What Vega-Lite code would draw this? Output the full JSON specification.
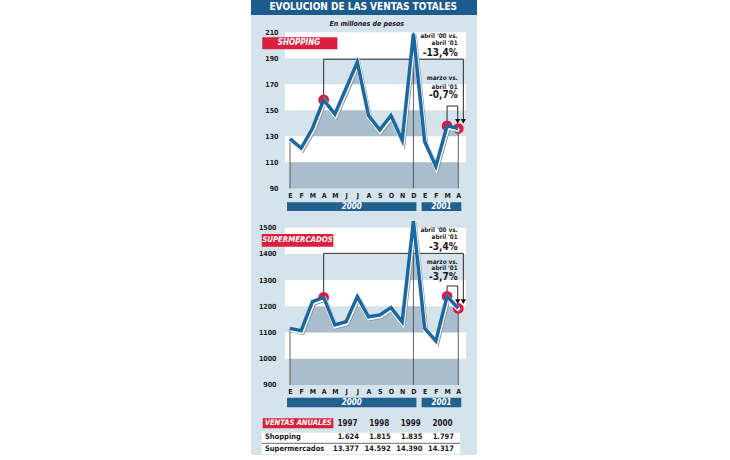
{
  "$schema": "https://vega.github.io/schema/vega-lite/v6.json",
  "width": 226,
  "height": 455,
  "autosize": {"type": "none"},
  "padding": {"left": 251, "right": 253, "top": 0, "bottom": 5},
  "background": "white",
  "config": {
    "font": "DejaVu Sans Condensed, Liberation Sans, sans-serif",
    "view": {"fill": "#d5e3ed", "stroke": null},
    "locale": {"number": {"decimal": ",", "thousands": ".", "grouping": [3], "currency": ["$", ""]}},
    "axis": {"labelFont": "DejaVu Sans Condensed, Liberation Sans, sans-serif", "labelFontWeight": "bold", "labelColor": "#1a1a1a", "labelFontSize": 7, "domain": false, "ticks": false, "tickSize": 0, "grid": false}
  },
  "datasets": {
    "ventas": [
      {"i": 0, "mes": "E", "anio": "2000", "shopping": 128, "super": 1116},
      {"i": 1, "mes": "F", "anio": "2000", "shopping": 121, "super": 1107},
      {"i": 2, "mes": "M", "anio": "2000", "shopping": 136, "super": 1218},
      {"i": 3, "mes": "A", "anio": "2000", "shopping": 158, "super": 1234},
      {"i": 4, "mes": "M", "anio": "2000", "shopping": 147, "super": 1129},
      {"i": 5, "mes": "J", "anio": "2000", "shopping": 167, "super": 1141},
      {"i": 6, "mes": "J", "anio": "2000", "shopping": 187, "super": 1237},
      {"i": 7, "mes": "A", "anio": "2000", "shopping": 146, "super": 1160},
      {"i": 8, "mes": "S", "anio": "2000", "shopping": 135, "super": 1167},
      {"i": 9, "mes": "O", "anio": "2000", "shopping": 146, "super": 1195},
      {"i": 10, "mes": "N", "anio": "2000", "shopping": 127, "super": 1141},
      {"i": 11, "mes": "D", "anio": "2000", "shopping": 209, "super": 1525},
      {"i": 12, "mes": "E", "anio": "2001", "shopping": 126, "super": 1116},
      {"i": 13, "mes": "F", "anio": "2001", "shopping": 107, "super": 1068},
      {"i": 14, "mes": "M", "anio": "2001", "shopping": 138, "super": 1238},
      {"i": 15, "mes": "A", "anio": "2001", "shopping": 136, "super": 1192}
    ],
    "bandasS": [{"desde": 110, "hasta": 130}, {"desde": 150, "hasta": 170}, {"desde": 190, "hasta": 210}],
    "bandasM": [{"desde": 1000, "hasta": 1100}, {"desde": 1200, "hasta": 1300}, {"desde": 1400, "hasta": 1500}],
    "anual": [
      {"anio": 1997, "shopping": 1624, "super": 13377},
      {"anio": 1998, "shopping": 1815, "super": 14592},
      {"anio": 1999, "shopping": 1835, "super": 14390},
      {"anio": 2000, "shopping": 1797, "super": 14317}
    ]
  },
  "resolve": {"scale": {"x": "independent", "y": "independent"}},
  "layer": [
    {"data": {"values": [{}]}, "mark": {"type": "rect", "color": "#1c5b8d"},
     "encoding": {"x": {"datum": -3.476, "scale": {"domain": [-3.476, 16.667], "nice": false, "zero": false}, "axis": null}, "x2": {"datum": 16.667},
                  "y": {"datum": 234.85, "scale": {"domain": [-115.15, 234.85], "nice": false, "zero": false}, "axis": null}, "y2": {"datum": 223.3}}},
    {"data": {"values": [{"t": "EVOLUCION DE LAS VENTAS TOTALES"}]}, "mark": {"type": "text", "color": "white", "fontSize": 10, "fontWeight": "bold", "align": "center", "baseline": "middle"},
     "encoding": {"x": {"datum": 6.53, "scale": {"domain": [-3.476, 16.667], "nice": false, "zero": false}, "axis": null},
                  "y": {"datum": 229.2, "scale": {"domain": [-115.15, 234.85], "nice": false, "zero": false}, "axis": null}, "text": {"field": "t"}}},
    {"data": {"values": [{"t": "En millones de pesos"}]}, "mark": {"type": "text", "color": "#1a1a1a", "fontSize": 7, "fontWeight": "bold", "fontStyle": "italic", "align": "center", "baseline": "middle"},
     "encoding": {"x": {"datum": 6.84, "scale": {"domain": [-3.476, 16.667], "nice": false, "zero": false}, "axis": null},
                  "y": {"datum": 216.15, "scale": {"domain": [-115.15, 234.85], "nice": false, "zero": false}, "axis": null}, "text": {"field": "t"}}},
    {"data": {"name": "ventas"}, "mark": {"type": "area", "color": "#a9bdcc", "opacity": 1},
     "encoding": {"x": {"field": "i", "type": "quantitative", "scale": {"domain": [-3.476, 16.667], "nice": false, "zero": false}, "axis": null},
                  "y": {"field": "shopping", "type": "quantitative", "scale": {"domain": [-115.15, 234.85], "nice": false, "zero": false}, "axis": null}, "y2": {"datum": 90}}},
    {"data": {"name": "bandasS"}, "mark": {"type": "rect", "color": "white"},
     "encoding": {"x": {"datum": -0.45, "scale": {"domain": [-3.476, 16.667], "nice": false, "zero": false}, "axis": null}, "x2": {"datum": 15.69},
                  "y": {"field": "desde", "type": "quantitative", "scale": {"domain": [-115.15, 234.85], "nice": false, "zero": false}, "axis": null}, "y2": {"field": "hasta"}}},
    {"data": {"values": [{}]}, "mark": {"type": "rect", "color": "#dc1f3d"},
     "encoding": {"x": {"datum": -2.47, "scale": {"domain": [-3.476, 16.667], "nice": false, "zero": false}, "axis": null}, "x2": {"datum": 4.22},
                  "y": {"datum": 206.2, "scale": {"domain": [-115.15, 234.85], "nice": false, "zero": false}, "axis": null}, "y2": {"datum": 197}}},
    {"data": {"values": [{"t": "SHOPPING"}]}, "mark": {"type": "text", "color": "white", "fontSize": 8, "fontWeight": "bold", "fontStyle": "italic", "align": "center", "baseline": "middle"},
     "encoding": {"x": {"datum": 0.8, "scale": {"domain": [-3.476, 16.667], "nice": false, "zero": false}, "axis": null},
                  "y": {"datum": 201.6, "scale": {"domain": [-115.15, 234.85], "nice": false, "zero": false}, "axis": null}, "text": {"field": "t"}}},
    {"data": {"name": "ventas"}, "transform": [{"filter": "datum.i == 0 || datum.i == 15"}], "mark": {"type": "rule", "color": "#3a3a3a", "strokeWidth": 0.8},
     "encoding": {"x": {"field": "i", "type": "quantitative", "scale": {"domain": [-3.476, 16.667], "nice": false, "zero": false}, "axis": null},
                  "y": {"field": "shopping", "type": "quantitative", "scale": {"domain": [-115.15, 234.85], "nice": false, "zero": false}, "axis": null}, "y2": {"datum": 90}}},
    {"data": {"name": "ventas"}, "transform": [{"filter": "datum.i == 11"}], "mark": {"type": "rule", "color": "#3a3a3a", "strokeWidth": 0.8},
     "encoding": {"x": {"field": "i", "type": "quantitative", "scale": {"domain": [-3.476, 16.667], "nice": false, "zero": false}, "axis": null},
                  "y": {"datum": 210, "scale": {"domain": [-115.15, 234.85], "nice": false, "zero": false}, "axis": null}, "y2": {"datum": 90}}},
    {"data": {"values": [
        {"g": "a", "o": 1, "x": 3, "y": 158}, {"g": "a", "o": 2, "x": 3, "y": 189.3}, {"g": "a", "o": 3, "x": 15.45, "y": 189.3}, {"g": "a", "o": 4, "x": 15.45, "y": 142.5},
        {"g": "b", "o": 1, "x": 14, "y": 138}, {"g": "b", "o": 2, "x": 14, "y": 153.3}, {"g": "b", "o": 3, "x": 14.95, "y": 153.3}, {"g": "b", "o": 4, "x": 14.95, "y": 142.5}]},
     "mark": {"type": "line", "color": "#2a2a2a", "strokeWidth": 1},
     "encoding": {"x": {"field": "x", "type": "quantitative", "scale": {"domain": [-3.476, 16.667], "nice": false, "zero": false}, "axis": null},
                  "y": {"field": "y", "type": "quantitative", "scale": {"domain": [-115.15, 234.85], "nice": false, "zero": false}, "axis": null},
                  "detail": {"field": "g"}, "order": {"field": "o"}}},
    {"data": {"values": [{"x": 14.95}, {"x": 15.45}]}, "mark": {"type": "point", "shape": "triangle-down", "filled": true, "color": "#111111", "size": 28, "opacity": 1},
     "encoding": {"x": {"field": "x", "type": "quantitative", "scale": {"domain": [-3.476, 16.667], "nice": false, "zero": false}, "axis": null},
                  "y": {"datum": 141.6, "scale": {"domain": [-115.15, 234.85], "nice": false, "zero": false}, "axis": null}}},
    {"data": {"values": [{"y": 207.15, "t": "abril '00 vs."}, {"y": 202.0, "t": "abril '01"}, {"y": 174.6, "t": "marzo vs."}, {"y": 168.15, "t": "abril '01"}]},
     "mark": {"type": "text", "color": "#1a1a1a", "fontSize": 6.3, "fontWeight": "bold", "align": "right", "baseline": "middle"},
     "encoding": {"x": {"datum": 14.95, "scale": {"domain": [-3.476, 16.667], "nice": false, "zero": false}, "axis": null},
                  "y": {"field": "y", "type": "quantitative", "scale": {"domain": [-115.15, 234.85], "nice": false, "zero": false}, "axis": null}, "text": {"field": "t"}}},
    {"data": {"values": [{"y": 193.85, "t": "-13,4%"}, {"y": 161.5, "t": "-0,7%"}]},
     "mark": {"type": "text", "color": "#1a1a1a", "fontSize": 10, "fontWeight": "bold", "align": "right", "baseline": "middle"},
     "encoding": {"x": {"datum": 14.95, "scale": {"domain": [-3.476, 16.667], "nice": false, "zero": false}, "axis": null},
                  "y": {"field": "y", "type": "quantitative", "scale": {"domain": [-115.15, 234.85], "nice": false, "zero": false}, "axis": null}, "text": {"field": "t"}}},
    {"data": {"name": "ventas"}, "transform": [{"filter": "datum.i == 3 || datum.i == 14 || datum.i == 15"}], "mark": {"type": "point", "shape": "circle", "filled": true, "color": "#e3173e", "size": 115, "opacity": 1},
     "encoding": {"x": {"field": "i", "type": "quantitative", "scale": {"domain": [-3.476, 16.667], "nice": false, "zero": false}, "axis": null},
                  "y": {"field": "shopping", "type": "quantitative", "scale": {"domain": [-115.15, 234.85], "nice": false, "zero": false}, "axis": null}}},
    {"data": {"name": "ventas"}, "mark": {"type": "line", "color": "#8597a6", "strokeWidth": 4, "xOffset": 1.5, "yOffset": 2.2},
     "encoding": {"x": {"field": "i", "type": "quantitative", "scale": {"domain": [-3.476, 16.667], "nice": false, "zero": false}, "axis": null},
                  "y": {"field": "shopping", "type": "quantitative", "scale": {"domain": [-115.15, 234.85], "nice": false, "zero": false}, "axis": null}}},
    {"data": {"name": "ventas"}, "mark": {"type": "line", "color": "white", "strokeWidth": 4.5, "xOffset": 0.5, "yOffset": 1.2},
     "encoding": {"x": {"field": "i", "type": "quantitative", "scale": {"domain": [-3.476, 16.667], "nice": false, "zero": false}, "axis": null},
                  "y": {"field": "shopping", "type": "quantitative", "scale": {"domain": [-115.15, 234.85], "nice": false, "zero": false}, "axis": null}}},
    {"data": {"name": "ventas"}, "mark": {"type": "line", "color": "#1b68a1", "strokeWidth": 3.5, "strokeJoin": "miter"},
     "encoding": {"x": {"field": "i", "type": "quantitative", "scale": {"domain": [-3.476, 16.667], "nice": false, "zero": false},
                        "axis": {"orient": "bottom", "offset": -265.8, "values": [0, 1, 2, 3, 4, 5, 6, 7, 8, 9, 10, 11, 12, 13, 14, 15], "labelExpr": "['E','F','M','A','M','J','J','A','S','O','N','D','E','F','M','A'][datum.value]", "labelPadding": 2, "labelFlush": false, "labelOverlap": false, "title": null}},
                  "y": {"field": "shopping", "type": "quantitative", "scale": {"domain": [-115.15, 234.85], "nice": false, "zero": false},
                        "axis": {"orient": "left", "offset": -29, "values": [90, 110, 130, 150, 170, 190, 210], "labelPadding": 2, "labelOverlap": false, "title": null}}}},
    {"data": {"name": "ventas"}, "mark": {"type": "rect", "color": "#21608f", "xOffset": -3, "x2Offset": 3},
     "encoding": {"x": {"aggregate": "min", "field": "i", "type": "quantitative", "scale": {"domain": [-3.476, 16.667], "nice": false, "zero": false}, "axis": null}, "x2": {"aggregate": "max", "field": "i"},
                  "y": {"datum": 79.2, "scale": {"domain": [-115.15, 234.85], "nice": false, "zero": false}, "axis": null}, "y2": {"datum": 72.5}, "detail": {"field": "anio"}}},
    {"data": {"name": "ventas"}, "mark": {"type": "text", "color": "white", "fontSize": 8, "fontWeight": "bold", "fontStyle": "italic", "align": "center", "baseline": "middle"},
     "encoding": {"x": {"aggregate": "mean", "field": "i", "type": "quantitative", "scale": {"domain": [-3.476, 16.667], "nice": false, "zero": false}, "axis": null},
                  "y": {"datum": 75.85, "scale": {"domain": [-115.15, 234.85], "nice": false, "zero": false}, "axis": null}, "text": {"field": "anio", "type": "nominal"}}},

    {"data": {"name": "ventas"}, "mark": {"type": "area", "color": "#a9bdcc", "opacity": 1},
     "encoding": {"x": {"field": "i", "type": "quantitative", "scale": {"domain": [-3.476, 16.667], "nice": false, "zero": false}, "axis": null},
                  "y": {"field": "super", "type": "quantitative", "scale": {"domain": [633.0, 2368.3], "nice": false, "zero": false}, "axis": null}, "y2": {"datum": 900}}},
    {"data": {"name": "bandasM"}, "mark": {"type": "rect", "color": "white"},
     "encoding": {"x": {"datum": -0.45, "scale": {"domain": [-3.476, 16.667], "nice": false, "zero": false}, "axis": null}, "x2": {"datum": 15.69},
                  "y": {"field": "desde", "type": "quantitative", "scale": {"domain": [633.0, 2368.3], "nice": false, "zero": false}, "axis": null}, "y2": {"field": "hasta"}}},
    {"data": {"values": [{}]}, "mark": {"type": "rect", "color": "#dc1f3d"},
     "encoding": {"x": {"datum": -2.52, "scale": {"domain": [-3.476, 16.667], "nice": false, "zero": false}, "axis": null}, "x2": {"datum": 3.86},
                  "y": {"datum": 1475.9, "scale": {"domain": [633.0, 2368.3], "nice": false, "zero": false}, "axis": null}, "y2": {"datum": 1427.5}}},
    {"data": {"values": [{"t": "SUPERMERCADOS"}]}, "mark": {"type": "text", "color": "white", "fontSize": 7.8, "fontWeight": "bold", "fontStyle": "italic", "align": "center", "baseline": "middle"},
     "encoding": {"x": {"datum": 0.67, "scale": {"domain": [-3.476, 16.667], "nice": false, "zero": false}, "axis": null},
                  "y": {"datum": 1451.9, "scale": {"domain": [633.0, 2368.3], "nice": false, "zero": false}, "axis": null}, "text": {"field": "t"}}},
    {"data": {"name": "ventas"}, "transform": [{"filter": "datum.i == 0 || datum.i == 15"}], "mark": {"type": "rule", "color": "#3a3a3a", "strokeWidth": 0.8},
     "encoding": {"x": {"field": "i", "type": "quantitative", "scale": {"domain": [-3.476, 16.667], "nice": false, "zero": false}, "axis": null},
                  "y": {"field": "super", "type": "quantitative", "scale": {"domain": [633.0, 2368.3], "nice": false, "zero": false}, "axis": null}, "y2": {"datum": 900}}},
    {"data": {"name": "ventas"}, "transform": [{"filter": "datum.i == 11"}], "mark": {"type": "rule", "color": "#3a3a3a", "strokeWidth": 0.8},
     "encoding": {"x": {"field": "i", "type": "quantitative", "scale": {"domain": [-3.476, 16.667], "nice": false, "zero": false}, "axis": null},
                  "y": {"datum": 1500, "scale": {"domain": [633.0, 2368.3], "nice": false, "zero": false}, "axis": null}, "y2": {"datum": 900}}},
    {"data": {"values": [
        {"g": "a", "o": 1, "x": 3, "y": 1234}, {"g": "a", "o": 2, "x": 3, "y": 1402}, {"g": "a", "o": 3, "x": 15.45, "y": 1402}, {"g": "a", "o": 4, "x": 15.45, "y": 1225},
        {"g": "b", "o": 1, "x": 14, "y": 1238}, {"g": "b", "o": 2, "x": 14, "y": 1277.6}, {"g": "b", "o": 3, "x": 14.95, "y": 1277.6}, {"g": "b", "o": 4, "x": 14.95, "y": 1225}]},
     "mark": {"type": "line", "color": "#2a2a2a", "strokeWidth": 1},
     "encoding": {"x": {"field": "x", "type": "quantitative", "scale": {"domain": [-3.476, 16.667], "nice": false, "zero": false}, "axis": null},
                  "y": {"field": "y", "type": "quantitative", "scale": {"domain": [633.0, 2368.3], "nice": false, "zero": false}, "axis": null},
                  "detail": {"field": "g"}, "order": {"field": "o"}}},
    {"data": {"values": [{"x": 14.95}, {"x": 15.45}]}, "mark": {"type": "point", "shape": "triangle-down", "filled": true, "color": "#111111", "size": 28, "opacity": 1},
     "encoding": {"x": {"field": "x", "type": "quantitative", "scale": {"domain": [-3.476, 16.667], "nice": false, "zero": false}, "axis": null},
                  "y": {"datum": 1218, "scale": {"domain": [633.0, 2368.3], "nice": false, "zero": false}, "axis": null}}},
    {"data": {"values": [{"y": 1491.2, "t": "abril '00 vs."}, {"y": 1465.6, "t": "abril '01"}, {"y": 1370.3, "t": "marzo vs."}, {"y": 1345.1, "t": "abril '01"}]},
     "mark": {"type": "text", "color": "#1a1a1a", "fontSize": 6.3, "fontWeight": "bold", "align": "right", "baseline": "middle"},
     "encoding": {"x": {"datum": 14.95, "scale": {"domain": [-3.476, 16.667], "nice": false, "zero": false}, "axis": null},
                  "y": {"field": "y", "type": "quantitative", "scale": {"domain": [633.0, 2368.3], "nice": false, "zero": false}, "axis": null}, "text": {"field": "t"}}},
    {"data": {"values": [{"y": 1427.5, "t": "-3,4%"}, {"y": 1312, "t": "-3,7%"}]},
     "mark": {"type": "text", "color": "#1a1a1a", "fontSize": 10, "fontWeight": "bold", "align": "right", "baseline": "middle"},
     "encoding": {"x": {"datum": 14.95, "scale": {"domain": [-3.476, 16.667], "nice": false, "zero": false}, "axis": null},
                  "y": {"field": "y", "type": "quantitative", "scale": {"domain": [633.0, 2368.3], "nice": false, "zero": false}, "axis": null}, "text": {"field": "t"}}},
    {"data": {"name": "ventas"}, "transform": [{"filter": "datum.i == 3 || datum.i == 14 || datum.i == 15"}], "mark": {"type": "point", "shape": "circle", "filled": true, "color": "#e3173e", "size": 115, "opacity": 1},
     "encoding": {"x": {"field": "i", "type": "quantitative", "scale": {"domain": [-3.476, 16.667], "nice": false, "zero": false}, "axis": null},
                  "y": {"field": "super", "type": "quantitative", "scale": {"domain": [633.0, 2368.3], "nice": false, "zero": false}, "axis": null}}},
    {"data": {"name": "ventas"}, "mark": {"type": "line", "color": "#8597a6", "strokeWidth": 4, "xOffset": 1.5, "yOffset": 2.2},
     "encoding": {"x": {"field": "i", "type": "quantitative", "scale": {"domain": [-3.476, 16.667], "nice": false, "zero": false}, "axis": null},
                  "y": {"field": "super", "type": "quantitative", "scale": {"domain": [633.0, 2368.3], "nice": false, "zero": false}, "axis": null}}},
    {"data": {"name": "ventas"}, "mark": {"type": "line", "color": "white", "strokeWidth": 4.5, "xOffset": 0.5, "yOffset": 1.2},
     "encoding": {"x": {"field": "i", "type": "quantitative", "scale": {"domain": [-3.476, 16.667], "nice": false, "zero": false}, "axis": null},
                  "y": {"field": "super", "type": "quantitative", "scale": {"domain": [633.0, 2368.3], "nice": false, "zero": false}, "axis": null}}},
    {"data": {"name": "ventas"}, "mark": {"type": "line", "color": "#1b68a1", "strokeWidth": 3.5, "strokeJoin": "miter"},
     "encoding": {"x": {"field": "i", "type": "quantitative", "scale": {"domain": [-3.476, 16.667], "nice": false, "zero": false},
                        "axis": {"orient": "bottom", "offset": -69.8, "values": [0, 1, 2, 3, 4, 5, 6, 7, 8, 9, 10, 11, 12, 13, 14, 15], "labelExpr": "['E','F','M','A','M','J','J','A','S','O','N','D','E','F','M','A'][datum.value]", "labelPadding": 2, "labelFlush": false, "labelOverlap": false, "title": null}},
                  "y": {"field": "super", "type": "quantitative", "scale": {"domain": [633.0, 2368.3], "nice": false, "zero": false},
                        "axis": {"orient": "left", "offset": -27, "values": [900, 1000, 1100, 1200, 1300, 1400, 1500], "format": "d", "labelPadding": 2, "labelOverlap": false, "title": null}}}},
    {"data": {"name": "ventas"}, "mark": {"type": "rect", "color": "#21608f", "xOffset": -3, "x2Offset": 3},
     "encoding": {"x": {"aggregate": "min", "field": "i", "type": "quantitative", "scale": {"domain": [-3.476, 16.667], "nice": false, "zero": false}, "axis": null}, "x2": {"aggregate": "max", "field": "i"},
                  "y": {"datum": 851.6, "scale": {"domain": [633.0, 2368.3], "nice": false, "zero": false}, "axis": null}, "y2": {"datum": 814.9}, "detail": {"field": "anio"}}},
    {"data": {"name": "ventas"}, "mark": {"type": "text", "color": "white", "fontSize": 8, "fontWeight": "bold", "fontStyle": "italic", "align": "center", "baseline": "middle"},
     "encoding": {"x": {"aggregate": "mean", "field": "i", "type": "quantitative", "scale": {"domain": [-3.476, 16.667], "nice": false, "zero": false}, "axis": null},
                  "y": {"datum": 833.2, "scale": {"domain": [633.0, 2368.3], "nice": false, "zero": false}, "axis": null}, "text": {"field": "anio", "type": "nominal"}}},

    {"data": {"values": [{}]}, "mark": {"type": "rect", "color": "white"},
     "encoding": {"x": {"datum": 1993.93, "scale": {"domain": [1993.59, 2000.726], "nice": false, "zero": false}, "axis": null}, "x2": {"datum": 2000.19},
                  "y": {"datum": 0.696, "scale": {"domain": [-33.92, 2.48], "reverse": true, "nice": false, "zero": false}, "axis": null}, "y2": {"datum": 2.424}}},
    {"data": {"values": [{}]}, "mark": {"type": "rule", "color": "#444444", "strokeWidth": 0.8},
     "encoding": {"x": {"datum": 1993.93, "scale": {"domain": [1993.59, 2000.726], "nice": false, "zero": false}, "axis": null}, "x2": {"datum": 2000.19},
                  "y": {"datum": 1.544, "scale": {"domain": [-33.92, 2.48], "reverse": true, "nice": false, "zero": false}, "axis": null}}},
    {"data": {"values": [{}]}, "mark": {"type": "rect", "color": "#dc1f3d"},
     "encoding": {"x": {"datum": 1993.96, "scale": {"domain": [1993.59, 2000.726], "nice": false, "zero": false}, "axis": null}, "x2": {"datum": 1996.19},
                  "y": {"datum": -0.456, "scale": {"domain": [-33.92, 2.48], "reverse": true, "nice": false, "zero": false}, "axis": null}, "y2": {"datum": 0.344}}},
    {"data": {"values": [{"t": "VENTAS ANUALES"}]}, "mark": {"type": "text", "color": "white", "fontSize": 7.5, "fontWeight": "bold", "fontStyle": "italic", "align": "center", "baseline": "middle"},
     "encoding": {"x": {"datum": 1995.08, "scale": {"domain": [1993.59, 2000.726], "nice": false, "zero": false}, "axis": null},
                  "y": {"datum": -0.056, "scale": {"domain": [-33.92, 2.48], "reverse": true, "nice": false, "zero": false}, "axis": null}, "text": {"field": "t"}}},
    {"data": {"name": "anual"}, "mark": {"type": "text", "color": "#1a1a1a", "fontSize": 8, "fontWeight": "bold", "align": "right", "baseline": "middle", "dx": -1.5},
     "encoding": {"x": {"field": "anio", "type": "quantitative", "scale": {"domain": [1993.59, 2000.726], "nice": false, "zero": false}, "axis": null},
                  "y": {"datum": 0, "scale": {"domain": [-33.92, 2.48], "reverse": true, "nice": false, "zero": false}, "axis": null}, "text": {"field": "anio", "type": "quantitative", "format": "d"}}},
    {"data": {"name": "anual"}, "mark": {"type": "text", "color": "#1a1a1a", "fontSize": 7.5, "fontWeight": "bold", "align": "right", "baseline": "middle"},
     "encoding": {"x": {"field": "anio", "type": "quantitative", "scale": {"domain": [1993.59, 2000.726], "nice": false, "zero": false}, "axis": null},
                  "y": {"datum": 1, "scale": {"domain": [-33.92, 2.48], "reverse": true, "nice": false, "zero": false}, "axis": null}, "text": {"field": "shopping", "type": "quantitative", "format": ",d"}}},
    {"data": {"name": "anual"}, "mark": {"type": "text", "color": "#1a1a1a", "fontSize": 7.5, "fontWeight": "bold", "align": "right", "baseline": "middle"},
     "encoding": {"x": {"field": "anio", "type": "quantitative", "scale": {"domain": [1993.59, 2000.726], "nice": false, "zero": false}, "axis": null},
                  "y": {"datum": 2, "scale": {"domain": [-33.92, 2.48], "reverse": true, "nice": false, "zero": false}, "axis": null}, "text": {"field": "super", "type": "quantitative", "format": ",d"}}},
    {"data": {"values": [{"serie": "Shopping", "r": 1}, {"serie": "Supermercados", "r": 2}]}, "mark": {"type": "text", "color": "#1a1a1a", "fontSize": 7.5, "fontWeight": "bold", "align": "left", "baseline": "middle"},
     "encoding": {"x": {"datum": 1994.03, "scale": {"domain": [1993.59, 2000.726], "nice": false, "zero": false}, "axis": null},
                  "y": {"field": "r", "type": "quantitative", "scale": {"domain": [-33.92, 2.48], "reverse": true, "nice": false, "zero": false}, "axis": null}, "text": {"field": "serie"}}}
  ]
}
